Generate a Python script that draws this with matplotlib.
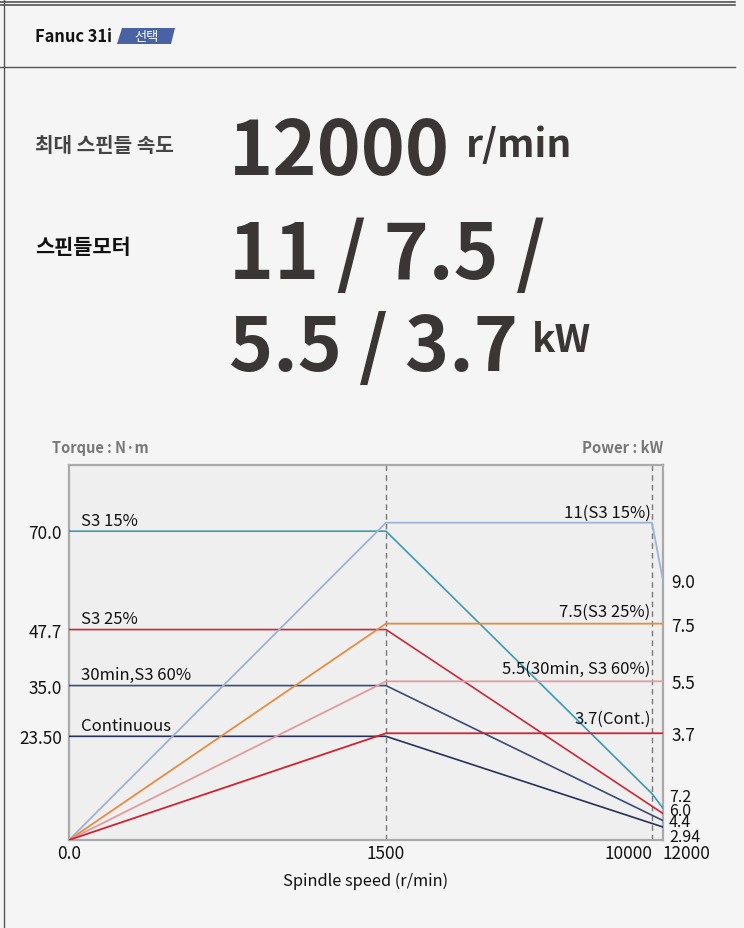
import numpy as np
import matplotlib
matplotlib.use('Agg')
import matplotlib.pyplot as plt
from matplotlib.patches import Polygon
from matplotlib.lines import Line2D

plt.rcParams['font.family'] = ['Noto Sans CJK KR', 'DejaVu Sans']

# 데이터
speed_ticks = [0, 1500, 10000, 12000]
speed_tick_labels = ['0.0', '1500', '10000', '12000']
speed_pos = [0, 317, 583, 594]   # 축 위 간격(비선형 눈금)

torque_names = ['S3 15%', 'S3 25%', '30min,S3 60%', 'Continuous']
torque_speed = [[0, 1500, 10000, 12000], [0, 1500, 12000], [0, 1500, 12000], [0, 1500, 12000]]
torque_vals = [[70.0, 70.0, 10.5, 7.2], [47.7, 47.7, 6.0], [35.0, 35.0, 4.4], [23.5, 23.5, 2.94]]
torque_colors = ['#3a9ab2', '#c8283a', '#3c4a78', '#26325c']
torque_ticks = [70.0, 47.7, 35.0, 23.5]
torque_tick_labels = ['70.0', '47.7', '35.0', '23.50']
torque_end_labels = ['7.2', '6.0', '4.4', '2.94']

power_names = ['11(S3 15%)', '7.5(S3 25%)', '5.5(30min, S3 60%)', '3.7(Cont.)']
power_speed = [[0, 1500, 10000, 12000], [0, 1500, 12000], [0, 1500, 12000], [0, 1500, 12000]]
power_vals = [[0, 11, 11, 9.0], [0, 7.5, 7.5], [0, 5.5, 5.5], [0, 3.7, 3.7]]
power_colors = ['#9fb2d8', '#e38d45', '#e09c9e', '#d02232']
power_ticks = [9.0, 7.5, 5.5, 3.7]
power_tick_labels = ['9.0', '7.5', '5.5', '3.7']


def fwd(x):
    return np.interp(x, speed_ticks, speed_pos)


def inv(x):
    return np.interp(x, speed_pos, speed_ticks)


fig = plt.figure(figsize=(7.44, 9.29), dpi=100)
fig.patch.set_facecolor('#f5f5f5')
W, H = 744, 929


def fx(px):
    return px / W


def fy(py):
    return 1 - py / H


# 틀 선
for yy in [3, 6]:
    fig.add_artist(Line2D([0, fx(735)], [fy(yy), fy(yy)], color='#555555', lw=1.2))
fig.add_artist(Line2D([0, fx(735)], [fy(68), fy(68)], color='#555555', lw=1.0))
fig.add_artist(Line2D([fx(4), fx(4)], [0, 1], color='#555555', lw=1.0))

# 헤더
fig.text(fx(35), fy(37), 'Fanuc 31i', fontsize=11.8, fontweight='bold', color='#111111', va='center')
badge = Polygon([[fx(117), fy(45)], [fx(122), fy(29)], [fx(175), fy(29)], [fx(171), fy(45)]],
                closed=True, transform=fig.transFigure, facecolor='#4862a3', edgecolor='none')
fig.add_artist(badge)
fig.text(fx(146), fy(37), '선택', fontsize=9.5, color='white', ha='center', va='center')

fig.text(fx(35), fy(146), '최대 스핀들 속도', fontsize=14.5, fontweight='bold', color='#444444', va='center')
fig.text(fx(229), fy(175), '12000', fontsize=54, fontweight='bold', color='#3a3636', va='baseline')
fig.text(fx(466), fy(157), 'r/min', fontsize=28, fontweight='bold', color='#3a3636', va='baseline')

fig.text(fx(35), fy(248), '스핀들모터', fontsize=15, fontweight='bold', color='#111111', va='center')
fig.text(fx(229), fy(279), '11 / 7.5 /', fontsize=55, fontweight='bold', color='#3a3636', va='baseline')
fig.text(fx(229), fy(371), '5.5 / 3.7', fontsize=54, fontweight='bold', color='#3a3636', va='baseline')
fig.text(fx(532), fy(352), 'kW', fontsize=28, fontweight='bold', color='#3a3636', va='baseline')

# 그래프
ax = fig.add_axes([fx(69), fy(841), fx(663) - fx(69), fy(466) - fy(841)])
ax.set_facecolor('#efefef')
ax.set_xscale('function', functions=(fwd, inv))
ax.set_xlim(0, 12000)
ax.set_ylim(0, 85)
for s in ax.spines.values():
    s.set_color('#aaaaaa')
    s.set_linewidth(1.6)

ax2 = ax.twinx()
ax2.set_ylim(0, 13.0)
for s in ax2.spines.values():
    s.set_visible(False)

for xv in [1500, 10000]:
    ax.axvline(xv, color='#777777', lw=1.0, ls=(0, (4, 3)), zorder=1)

for i in range(len(torque_names)):
    ax.plot(torque_speed[i], torque_vals[i], color=torque_colors[i], lw=1.2, zorder=3)
    ax.annotate(torque_names[i], xy=(0, torque_vals[i][0]), xytext=(8.5, 4.5),
                textcoords='offset points', fontsize=12, color='#111111', va='baseline')

for i in range(len(power_names)):
    ax2.plot(power_speed[i], power_vals[i], color=power_colors[i], lw=1.3)

power_label_off = [4, 5.5, 6, 7.5]
for i in range(len(power_names)):
    ax2.annotate(power_names[i], xy=(10000, power_vals[i][1]), xytext=(-1, power_label_off[i]),
                 textcoords='offset points', fontsize=12, color='#111111', va='baseline', ha='right')

end_off = [8.6, 2.5, -1.0, -6.5]
for i in range(len(torque_end_labels)):
    ax.annotate(torque_end_labels[i], xy=(12000, torque_vals[i][-1]), xytext=(4.3, end_off[i]),
                textcoords='offset points', fontsize=11.5, color='#111111', va='center', ha='left',
                annotation_clip=False)

ax.set_yticks(torque_ticks)
ax.set_yticklabels(torque_tick_labels)
ax.tick_params(axis='y', length=0, pad=5, labelsize=12.4, labelcolor='#111111')
ax2.set_yticks(power_ticks)
ax2.set_yticklabels(power_tick_labels)
ax2.tick_params(axis='y', length=0, pad=6, labelsize=12.4, labelcolor='#111111')

ax.set_xticks(speed_ticks)
ax.set_xticklabels(speed_tick_labels)
ax.tick_params(axis='x', length=0, pad=3, labelsize=12.4, labelcolor='#111111')
xl = ax.get_xticklabels()
xl[2].set_ha('right')
xl[3].set_ha('left')
ax.set_xlabel('Spindle speed (r/min)', fontsize=11.8, color='#111111', labelpad=7)

fig.text(fx(52), fy(448), 'Torque : N·m', fontsize=10.5, fontweight='bold', color='#777777', va='center')
fig.text(fx(663), fy(448), 'Power : kW', fontsize=10.7, fontweight='bold', color='#777777', va='center', ha='right')

fig.savefig('out.png', dpi=100, facecolor=fig.get_facecolor())
